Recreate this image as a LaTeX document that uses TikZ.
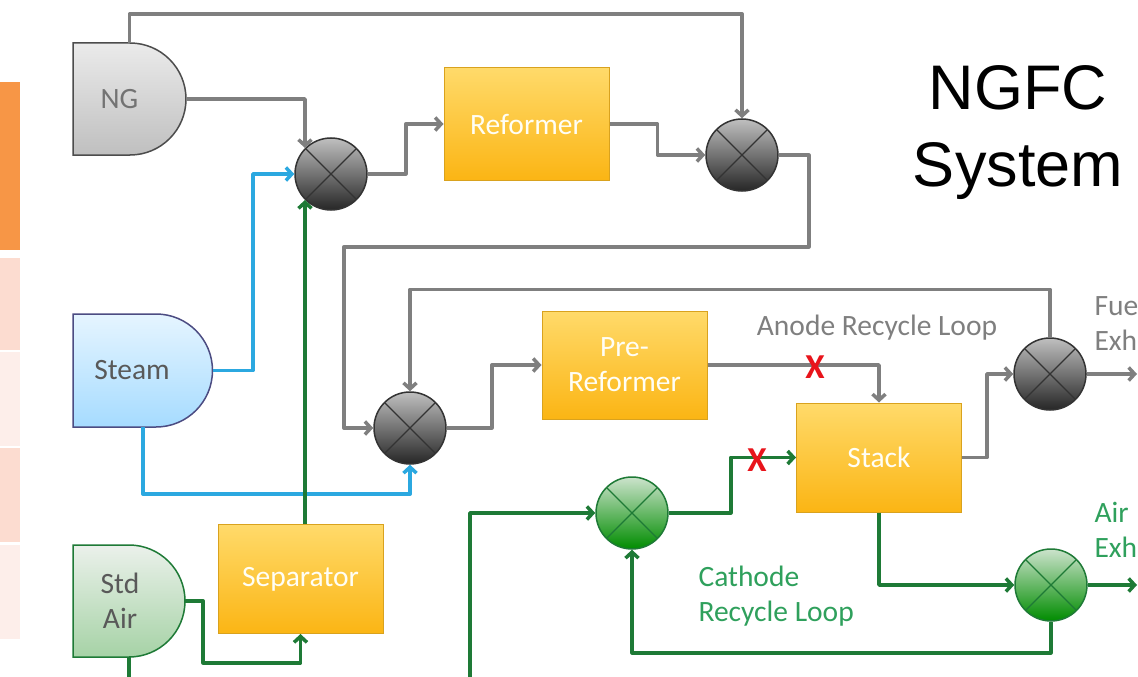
\documentclass[tikz,border=0pt]{standalone}
\usepackage{fontspec}
\setmainfont{Carlito}
\newfontfamily\arialfont{Liberation Sans}
\usetikzlibrary{arrows.meta}

\definecolor{flowgray}{HTML}{7F7F7F}
\definecolor{flowblue}{HTML}{2BA8E0}
\definecolor{flowgreen}{HTML}{1E7A36}
\definecolor{textgreen}{HTML}{2FA05C}
\definecolor{boxtop}{HTML}{FFDA6A}
\definecolor{boxbot}{HTML}{FBB514}
\definecolor{boxedge}{HTML}{D9A21E}
\definecolor{xred}{HTML}{E8141B}
\definecolor{barorange}{HTML}{F79646}
\definecolor{barpink}{HTML}{FCDCD0}
\definecolor{barpale}{HTML}{FDEEEA}

\newcommand{\flowfont}{\fontsize{29.5}{35}\selectfont}

\begin{document}
\begin{tikzpicture}[x=1pt, y=-1pt,
  gflow/.style={draw=flowgray, line width=3.5pt, line join=round, -{Straight Barb[length=6pt,width=13pt]}},
  bflow/.style={gflow, draw=flowblue},
  cflow/.style={gflow, draw=flowgreen},
  unit/.style={draw=boxedge, line width=1pt, top color=boxtop, bottom color=boxbot,
    text=white!96!yellow, font=\flowfont, align=center, inner sep=0, minimum width=165, minimum height=109},
  mixg/.style={circle, inner sep=0, minimum size=72, draw=black!80, line width=1.5pt,
    top color=black!25, bottom color=black!85,
    path picture={\draw[black!80, line width=1.3pt]
      (path picture bounding box.north west) -- (path picture bounding box.south east)
      (path picture bounding box.south west) -- (path picture bounding box.north east);}},
  mixc/.style={circle, inner sep=0, minimum size=72, draw=flowgreen, line width=1.5pt,
    top color=green!45!black!20!white, bottom color=green!55!black,
    path picture={\draw[flowgreen, line width=1.3pt]
      (path picture bounding box.north west) -- (path picture bounding box.south east)
      (path picture bounding box.south west) -- (path picture bounding box.north east);}},
  src/.style={inner sep=0, font=\flowfont, align=center},
  redx/.style={text=xred, font=\bfseries\fontsize{35}{35}\selectfont, inner sep=0},
  note/.style={font=\flowfont, align=left, anchor=west}]
  \clip (0,0) rectangle (1138,677);
  % side bars
  \fill[barorange] (0,82) rectangle (20,250);
  \fill[barpink] (0,258) rectangle (20,350);
  \fill[barpale] (0,352) rectangle (20,446);
  \fill[barpink] (0,448) rectangle (20,542);
  \fill[barpale] (0,545) rectangle (20,639);
  % feed shapes
  \draw[draw=black!70, line width=1.5pt, top color=black!8, bottom color=black!25]
    (73,43) -- (130,43) arc (-90:90:56) -- (73,155) -- cycle;
  \draw[draw=blue!30!black!70, line width=1.5pt, top color=blue!40!cyan!10, bottom color=blue!40!cyan!35]
    (73,314) -- (156,314) arc (-90:90:56.5) -- (73,427) -- cycle;
  \draw[draw=flowgreen, line width=1.5pt, top color=green!30!black!8!white, bottom color=green!50!black!35!white]
    (73,545) -- (129,545) arc (-90:90:56) -- (73,657) -- cycle;
  \node[src, minimum width=113, minimum height=112,
    label={[src, text=black!55, xshift=-10pt]center:NG}] (ng) at (129.5,99) {};
  \node[src, minimum width=139.5, minimum height=113,
    label={[src, text=black!65, xshift=-11pt]center:Steam}] (steam) at (143,370.5) {};
  \node[src, minimum width=112, minimum height=112,
    label={[src, text=black!65, xshift=-9pt]center:Std\\Air}] (air) at (129,601) {};
  % units
  \node[unit, minimum height=112] (ref) at (526.5,124) {Reformer};
  \node[unit, minimum height=108] (pre) at (624.5,365) {Pre-\\Reformer};
  \node[unit] (stack) at (879,457.5) {Stack};
  \node[unit] (sep) at (300.5,579) {Separator};
  % mixers
  \node[mixg] (mix1) at (331,174) {};
  \node[mixg] (mix2) at (742,155) {};
  \node[mixg] (mix3) at (410,428) {};
  \node[mixg] (mix4) at (1050,374) {};
  \node[mixc] (mix5) at (632,513) {};
  \node[mixc] (mix6) at (1051,585) {};
  % free ends
  \coordinate (airdrop) at (129,690);
  \coordinate (cathfeed) at (470,690);
  \coordinate (fuelout) at (1137,374);
  \coordinate (airout) at (1137,585);
  % fuel side
  \draw[gflow] (ng.north) -- ++(0,-29) -| (mix2.north);
  \draw[gflow] (ng.east) -| (mix1.north west);
  \draw[gflow] (mix1.east) -- ++(38,0) |- (ref.west);
  \draw[gflow] (ref.east) -- ++(48,0) |- (mix2.west);
  \draw[gflow] (mix2.east) -- ++(30,0) -- ++(0,92) -- ++(-465,0) |- (mix3.west);
  \draw[gflow] (mix4.north) -- ++(0,-48) -| (mix3.north);
  \draw[gflow] (mix3.east) -- ++(45,0) |- (pre.west);
  \draw[gflow] (pre.east) -| (stack.north);
  \draw[gflow] (stack.east) -- ++(25,0) |- (mix4.west);
  \draw[gflow] (mix4.east) -- (fuelout);
  % steam
  \draw[bflow] (steam.east) -- ++(40,0) |- (mix1.west);
  \draw[bflow] (steam.south) -- ++(0,67) -| (mix3.south);
  % air side
  \draw[cflow] (sep.north -| mix1.south west) -- (mix1.south west);
  \draw[cflow] (air.east) -- ++(18,0) -- ++(0,62) -| (sep.south);
  \draw[cflow, -] (air.south) -- (airdrop);
  \draw[cflow] (cathfeed) |- (mix5.west);
  \draw[cflow] (mix5.east) -- ++(62,0) |- (stack.west);
  \draw[cflow] (stack.south) |- (mix6.west);
  \draw[cflow] (mix6.south) -- ++(0,31) -| (mix5.south);
  \draw[cflow] (mix6.east) -- (airout);
  % cut marks
  \node[redx] (cuta) at (815,367) {X};
  \node[redx] (cutb) at (757,460) {X};
  % labels
  \node[font=\flowfont, text=flowgray] (anode) at (877,328) {Anode Recycle Loop};
  \node[note, text=textgreen] (cathode) at (695,596) {Cathode\\Recycle Loop};
  \node[note, text=flowgray] (fuelex) at (1091,323) {Fuel\\Exhaust};
  \node[note, text=textgreen] (airex) at (1091,530) {Air\\Exhaust};
  \node[font=\arialfont\fontsize{63}{77}\selectfont, align=center] (title) at (1018,133) {NGFC\\System};
\end{tikzpicture}
\end{document}
